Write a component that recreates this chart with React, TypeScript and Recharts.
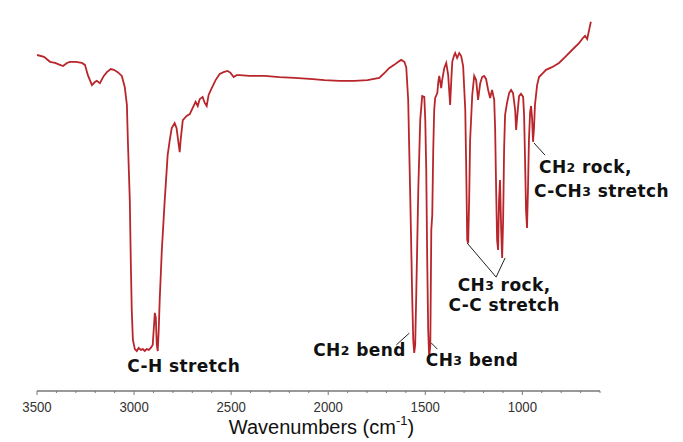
import React from 'react';
import { LineChart, Line, XAxis, YAxis, ReferenceLine, ReferenceDot } from 'recharts';

// IR spectrum: wavenumber (cm-1) and % transmittance
const wavenumbers = [
  3500, 3464, 3433, 3407, 3382, 3366, 3346, 3330, 3300, 3269,
  3253, 3238, 3217, 3202, 3192, 3176, 3156, 3140, 3120, 3104,
  3084, 3063, 3048, 3037, 3032, 3022, 3017, 3012, 3006, 2996,
  2986, 2976, 2965, 2955, 2945, 2935, 2924, 2914, 2904, 2893,
  2888, 2883, 2878, 2873, 2868, 2857, 2842, 2827, 2816, 2806,
  2791, 2781, 2770, 2765, 2760, 2749, 2729, 2713, 2698, 2683,
  2672, 2662, 2647, 2636, 2626, 2616, 2600, 2580, 2559, 2539,
  2518, 2503, 2487, 2472, 2456, 2405, 2328, 2251, 2174, 2096,
  2019, 1942, 1865, 1798, 1737, 1706, 1685, 1660, 1639, 1624,
  1608, 1598, 1588, 1577, 1567, 1562, 1557, 1552, 1546, 1536,
  1526, 1516, 1505, 1500, 1495, 1490, 1485, 1480, 1474, 1469,
  1464, 1459, 1454, 1449, 1438, 1433, 1428, 1418, 1413, 1402,
  1392, 1382, 1372, 1366, 1361, 1351, 1346, 1336, 1325, 1315,
  1305, 1294, 1289, 1284, 1279, 1274, 1269, 1258, 1248, 1238,
  1228, 1217, 1207, 1197, 1187, 1176, 1166, 1156, 1145, 1140,
  1135, 1130, 1125, 1120, 1115, 1109, 1104, 1099, 1094, 1089,
  1079, 1068, 1058, 1048, 1037, 1032, 1027, 1017, 1007, 996,
  991, 986, 981, 976, 971, 966, 960, 955, 950, 945,
  940, 935, 924, 914, 899, 878, 847, 811, 775, 744,
  708, 687, 677, 666, 656, 647,
];

const transmittance = [
  88.2, 87.7, 86.4, 86.1, 85.6, 85.3, 86.1, 86.4, 86.4, 86.1,
  85.6, 82.9, 80.3, 81.1, 81.4, 80.8, 82.7, 83.7, 84.5, 84.3,
  83.7, 82.7, 79.8, 75.1, 65.9, 50.1, 34.4, 21.3, 13.4, 11.0,
  10.5, 11.3, 10.8, 11.0, 10.5, 11.0, 10.8, 11.3, 12.1, 20.5,
  19.2, 12.1, 10.5, 16.0, 23.9, 37.0, 50.1, 61.9, 65.9, 69.0,
  70.3, 69.0, 64.6, 62.7, 65.9, 71.1, 72.2, 72.7, 74.3, 75.9,
  74.8, 76.6, 77.2, 75.6, 74.8, 77.7, 79.5, 81.6, 83.2, 83.7,
  84.0, 83.5, 82.4, 82.9, 82.9, 82.7, 82.7, 82.4, 82.2, 81.9,
  81.6, 81.4, 81.4, 81.6, 82.2, 83.7, 84.8, 85.6, 86.4, 86.9,
  86.4, 85.0, 76.4, 50.1, 23.9, 13.4, 10.0, 12.1, 26.5, 52.8,
  71.1, 77.4, 77.2, 71.1, 58.0, 34.4, 16.0, 8.9, 12.1, 42.3,
  46.2, 63.3, 73.8, 76.9, 78.2, 81.1, 82.7, 79.5, 81.6, 84.8,
  86.1, 82.9, 75.1, 81.6, 86.4, 88.2, 88.7, 87.4, 88.7, 87.9,
  85.3, 73.8, 58.0, 39.6, 38.8, 50.1, 65.9, 77.7, 82.7, 81.6,
  76.4, 80.8, 82.4, 82.7, 81.9, 79.0, 76.9, 79.0, 76.4, 68.5,
  52.8, 39.6, 37.0, 50.1, 55.4, 42.3, 34.9, 44.9, 63.3, 72.4,
  75.6, 78.2, 79.0, 78.2, 73.8, 68.5, 71.7, 77.4, 78.0, 77.2,
  72.4, 60.6, 47.5, 42.8, 52.8, 65.9, 73.2, 74.8, 71.7, 65.4,
  69.0, 75.1, 80.3, 82.4, 83.2, 84.3, 85.0, 86.1, 87.9, 89.5,
  91.3, 92.7, 93.2, 92.4, 94.8, 96.9,
];

// x-axis tick positions (every 100 cm-1, labelled every 500)
const axisTicks = [
  3500, 3400, 3300, 3200, 3100, 3000, 2900, 2800, 2700, 2600,
  2500, 2400, 2300, 2200, 2100, 2000, 1900, 1800, 1700, 1600,
  1500, 1400, 1300, 1200, 1100, 1000, 900, 800, 700, 600,
];
const labelledTicks = [3500, 3000, 2500, 2000, 1500, 1000];

// band assignments (text pieces: [text, isSubscript])
type Piece = [string, boolean];
const bandLabels: { pieces: Piece[]; w: number; t: number; anchor: 'start' | 'middle' }[] = [
  { pieces: [['C-H stretch', false]], w: 2744, t: 6.6, anchor: 'middle' },
  { pieces: [['CH', false], ['2', true], [' bend', false]], w: 1839, t: 10.8, anchor: 'middle' },
  { pieces: [['CH', false], ['3', true], [' bend', false]], w: 1259, t: 8.1, anchor: 'middle' },
  { pieces: [['CH', false], ['3', true], [' rock,', false]], w: 1094, t: 27.9, anchor: 'middle' },
  { pieces: [['C-C stretch', false]], w: 1094, t: 22.5, anchor: 'middle' },
  { pieces: [['CH', false], ['2', true], [' rock,', false]], w: 914, t: 58.8, anchor: 'start' },
  { pieces: [['C-CH', false], ['3', true], [' stretch', false]], w: 940, t: 52.6, anchor: 'start' },
];

// leader lines from the labels to their bands
const leaderLines = [
  { from: [1649, 12.1], to: [1582, 15.2] },
  { from: [1469, 12.6], to: [1438, 11.0] },
  { from: [1284, 38.8], to: [1135, 29.9] },
  { from: [1089, 34.9], to: [1135, 29.9] },
  { from: [940, 65.1], to: [883, 61.9] },
];

const spectrum = wavenumbers.map((w, i) => ({ w, t: transmittance[i] }));

const ARIAL = "'Liberation Sans', Arial, sans-serif";
const BOLD_FONT = "'DejaVu Sans', Verdana, sans-serif";

const AxisTick = (props: any) => {
  const { x, y, payload } = props;
  const v = payload.value as number;
  const major = labelledTicks.includes(v);
  return (
    <g>
      <line x1={x} x2={x} y1={y} y2={y + (major ? 4 : 2)} stroke="#777" strokeWidth={1} />
      {major && (
        <text
          transform={`translate(${x},${y + 16}) scale(0.88,1)`}
          textAnchor="middle"
          dominantBaseline="central"
          fontFamily={ARIAL}
          fontSize={15}
          fill="#333"
        >
          {v}
        </text>
      )}
    </g>
  );
};

const XTitle = (props: any) => {
  const vb = props.viewBox || {};
  const cx = vb.x + vb.width / 2 + 3;
  const cy = vb.y + 36;
  return (
    <text x={cx} y={cy} textAnchor="middle" dominantBaseline="central" fontFamily={ARIAL} fontSize={20} fill="#111">
      Wavenumbers (cm
      <tspan fontSize={13} dy={-7}>-1</tspan>
      <tspan dy={7}>)</tspan>
    </text>
  );
};

const YTitle = (props: any) => {
  const vb = props.viewBox || {};
  const cx = vb.x - 19;
  const cy = vb.y + vb.height / 2 - 20;
  return (
    <text
      transform={`translate(${cx},${cy}) rotate(-90)`}
      textAnchor="middle"
      dominantBaseline="central"
      fontFamily={ARIAL}
      fontSize={20}
      fill="#111"
    >
      %Transmittance
    </text>
  );
};

const makeBandShape = (pieces: Piece[], anchor: 'start' | 'middle') => (props: any) => {
  const { cx, cy } = props;
  return (
    <text
      x={cx}
      y={cy}
      textAnchor={anchor}
      dominantBaseline="central"
      fontFamily={BOLD_FONT}
      fontWeight="bold"
      fontSize={17}
      letterSpacing={0.4}
      fill="#111"
    >
      {pieces.map(([s, sub], i) =>
        sub ? (
          <tspan key={i} fontSize={12.5}>{s}</tspan>
        ) : (
          <tspan key={i}>{s}</tspan>
        )
      )}
    </text>
  );
};

export default function App() {
  return (
    <div style={{ position: 'absolute', left: 0, top: 0 }}>
      <LineChart
        width={683}
        height={442}
        data={spectrum}
        margin={{ top: 10, right: 83, bottom: 0, left: 37 }}
      >
        <defs>
          <linearGradient id="yAxisShade" gradientUnits="userSpaceOnUse" x1="0" y1="10" x2="0" y2="391">
            <stop offset="0%" stopColor="#666" />
            <stop offset="30%" stopColor="#9a9a9a" />
            <stop offset="55%" stopColor="#c8c8c8" />
            <stop offset="80%" stopColor="#8a8a8a" />
            <stop offset="100%" stopColor="#555" />
          </linearGradient>
        </defs>
        <XAxis
          type="number"
          dataKey="w"
          domain={[600, 3500]}
          reversed
          allowDataOverflow
          ticks={axisTicks}
          interval={0}
          tick={<AxisTick />}
          tickLine={false}
          tickSize={0}
          tickMargin={0}
          height={51}
          axisLine={{ stroke: '#777', strokeWidth: 1.5 }}
          label={<XTitle />}
        />
        <YAxis
          type="number"
          domain={[0, 100]}
          width={0}
          tick={false}
          tickLine={false}
          axisLine={{ stroke: 'url(#yAxisShade)', strokeWidth: 1.5 }}
          label={<YTitle />}
        />
        <Line
          type="linear"
          dataKey="t"
          stroke="#b8262b"
          strokeWidth={1.8}
          dot={false}
          isAnimationActive={false}
        />
        {leaderLines.map((l, i) => (
          <ReferenceLine
            key={`leader-${i}`}
            segment={[
              { x: l.from[0], y: l.from[1] },
              { x: l.to[0], y: l.to[1] },
            ]}
            stroke="#222"
            strokeWidth={1}
          />
        ))}
        {bandLabels.map((b, i) => (
          <ReferenceDot
            key={`band-${i}`}
            x={b.w}
            y={b.t}
            r={0}
            ifOverflow="visible"
            shape={makeBandShape(b.pieces, b.anchor)}
          />
        ))}
      </LineChart>
    </div>
  );
}
